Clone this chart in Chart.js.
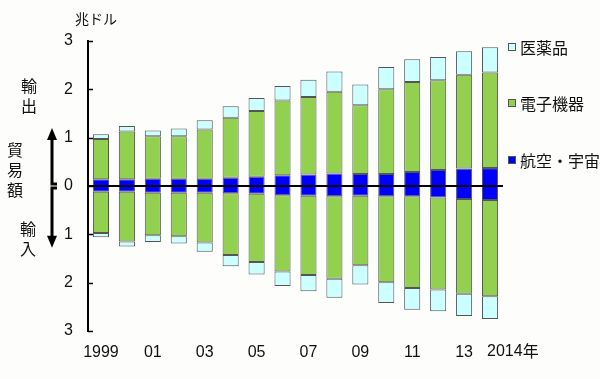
<!DOCTYPE html>
<html>
<head>
<meta charset="utf-8">
<script src="https://cdn.jsdelivr.net/npm/chart.js@4"></script>
<style>
  body { margin: 0; background: #fdfdfc; }
  #wrap { position: relative; width: 600px; height: 379px; font-family: "Noto Sans CJK JP", sans-serif; color: #111; }
  #wrap canvas { position: absolute; left: 0; top: 0; }
  .lbl { position: absolute; font-size: 16px; line-height: 20px; }
  .vt { width: 18px; text-align: center; }
  .leg { position: absolute; left: 508px; font-size: 16px; line-height: 20px; white-space: nowrap; }
  .leg i { display: inline-block; width: 6px; height: 6px; border: 1px solid #555; margin-right: 4px; vertical-align: 3px; }
</style>
</head>
<body>
<div id="wrap">
  <canvas id="trade-chart" width="600" height="379"></canvas>
  <div class="lbl" style="left:75px; top:8px; font-size:14px;">兆ドル</div>
  <div class="lbl vt" style="left:20px; top:75px;">輸<br>出</div>
  <div class="lbl vt" style="left:6px; top:139px;">貿<br>易<br>額</div>
  <div class="lbl vt" style="left:19px; top:218px;">輸<br>入</div>
  <div class="leg" style="top:37px;"><i style="background:#ccffff"></i>医薬品</div>
  <div class="leg" style="top:93px;"><i style="background:#92d050"></i>電子機器</div>
  <div class="leg" style="top:150px;"><i style="background:#0000ff"></i>航空・宇宙</div>
</div>
<script>
const years = ['1999','2000','2001','2002','2003','2004','2005','2006','2007','2008','2009','2010','2011','2012','2013','2014'];
const yearLabels = ['1999','','01','','03','','05','','07','','09','','11','','13',''];
const lastLabel = '2014年';
const yTicks = [-3, -2, -1, 0, 1, 2, 3];

// exports (trillion USD)
const exportAero   = [0.14,0.14,0.15,0.15,0.15,0.17,0.19,0.22,0.24,0.26,0.25,0.25,0.29,0.33,0.36,0.37];
const exportElec   = [0.83,0.99,0.88,0.88,1.02,1.24,1.36,1.55,1.60,1.69,1.42,1.75,1.86,1.86,1.94,1.98];
const exportPharma = [0.10,0.11,0.12,0.16,0.19,0.24,0.27,0.30,0.36,0.42,0.43,0.46,0.47,0.48,0.49,0.52];
// imports
const importAero   = [0.12,0.12,0.14,0.14,0.14,0.15,0.16,0.19,0.20,0.21,0.20,0.21,0.21,0.24,0.27,0.29];
const importElec   = [0.85,1.03,0.88,0.90,1.03,1.28,1.41,1.58,1.64,1.71,1.44,1.78,1.90,1.90,1.96,1.99];
const importPharma = [0.09,0.10,0.14,0.15,0.19,0.23,0.26,0.30,0.34,0.39,0.40,0.43,0.45,0.45,0.46,0.47];

const colPharma = '#ccffff';
const colElec = '#92d050';
const colAero = '#0000ff';

const neg = arr => arr.map(v => -v);

function ds(label, data, color) {
    return {
        label: label,
        data: data,
        backgroundColor: color,
        borderColor: '#555',
        borderWidth: 1,
        borderSkipped: false,
        stack: 'trade',
        barPercentage: 0.62,
        categoryPercentage: 1
    };
}

// zero line, inward ticks, the export/import arrows and the last x label
const extras = {
    id: 'extras',
    afterDatasetsDraw(chart) {
        const ctx = chart.ctx;
        const y = chart.scales.y;
        const x = chart.scales.x;
        const area = chart.chartArea;
        const y0 = y.getPixelForValue(0);
        ctx.save();
        ctx.strokeStyle = '#000';
        ctx.lineWidth = 2;
        ctx.beginPath();
        ctx.moveTo(area.left, y0);
        ctx.lineTo(area.right, y0);
        ctx.stroke();
        ctx.lineWidth = 1.5;
        yTicks.forEach(v => {
            const py = Math.round(y.getPixelForValue(v)) + 0.5;
            ctx.beginPath();
            ctx.moveTo(area.left, py);
            ctx.lineTo(area.left + 5, py);
            ctx.stroke();
        });

        // arrows: up for exports, down for imports
        const ax = 52;
        const top = y.getPixelForValue(1.2);
        const bot = y.getPixelForValue(-1.28);
        ctx.fillStyle = '#000';
        ctx.lineWidth = 3;
        ctx.beginPath();
        ctx.moveTo(ax, top + 8);
        ctx.lineTo(ax, y0 - 2);
        ctx.lineTo(ax + 5, y0 - 2);
        ctx.moveTo(ax + 5, y0 + 2);
        ctx.lineTo(ax, y0 + 2);
        ctx.lineTo(ax, bot - 8);
        ctx.stroke();
        ctx.beginPath();
        ctx.moveTo(ax, top);
        ctx.lineTo(ax - 5, top + 12);
        ctx.lineTo(ax + 5, top + 12);
        ctx.closePath();
        ctx.moveTo(ax, bot);
        ctx.lineTo(ax - 5, bot - 12);
        ctx.lineTo(ax + 5, bot - 12);
        ctx.closePath();
        ctx.fill();

        ctx.fillStyle = '#111';
        ctx.font = '16px "Liberation Sans", Arial, sans-serif';
        ctx.textBaseline = 'middle';
        ctx.textAlign = 'left';
        ctx.fillText('2014', x.getPixelForValue(15) - 3, 352);
        const w = ctx.measureText('2014').width;
        ctx.font = '16px "Noto Sans CJK JP", sans-serif';
        ctx.fillText('年', x.getPixelForValue(15) - 3 + w, 351);
        ctx.restore();
    }
};

new Chart(document.getElementById('trade-chart'), {
    type: 'bar',
    data: {
        labels: years,
        datasets: [
            ds('航空・宇宙', exportAero, colAero),
            ds('電子機器', exportElec, colElec),
            ds('医薬品', exportPharma, colPharma),
            ds('航空・宇宙 輸入', neg(importAero), colAero),
            ds('電子機器 輸入', neg(importElec), colElec),
            ds('医薬品 輸入', neg(importPharma), colPharma)
        ]
    },
    options: {
        responsive: false,
        animation: false,
        layout: { padding: { top: 41, right: 97, bottom: 0, left: 0 } },
        plugins: {
            legend: { display: false },
            tooltip: { enabled: false }
        },
        scales: {
            x: {
                stacked: true,
                afterFit: scale => { scale.height = 48; },
                grid: { display: false, drawTicks: false },
                border: { display: false },
                ticks: {
                    autoSkip: false,
                    maxRotation: 0,
                    padding: 12,
                    color: '#111',
                    font: { family: '"Liberation Sans", Arial, sans-serif', size: 16 },
                    callback: (v, i) => yearLabels[i]
                }
            },
            y: {
                stacked: true,
                min: -3,
                max: 3,
                afterFit: scale => { scale.width = 88; },
                grid: { display: false, drawTicks: false },
                border: { display: true, color: '#000', width: 2 },
                ticks: {
                    stepSize: 1,
                    padding: 15,
                    color: '#111',
                    font: { family: '"Liberation Sans", Arial, sans-serif', size: 16 },
                    callback: v => Math.abs(v)
                }
            }
        }
    },
    plugins: [extras]
});
</script>
</body>
</html>
